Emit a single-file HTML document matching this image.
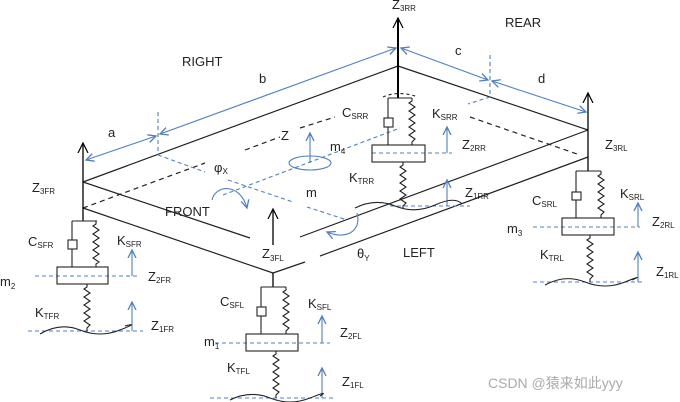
<!DOCTYPE html>
<html><head><meta charset="utf-8"><style>
html,body{margin:0;padding:0;background:#fff;}
svg{display:block;}
text{font-family:"Liberation Sans","Noto Sans CJK SC",sans-serif;font-size:13px;fill:#222;}
.s{font-size:8px;}
</style></head><body>
<svg width="680" height="402" viewBox="0 0 680 402" xmlns="http://www.w3.org/2000/svg">
<defs>
<marker id="ab" markerWidth="10" markerHeight="10" refX="8" refY="5" orient="auto-start-reverse" markerUnits="userSpaceOnUse"><path d="M0,1 L8,5 L0,9" fill="none" stroke="#4f7fc4" stroke-width="1.3"/></marker>
<marker id="ak" markerWidth="12" markerHeight="12" refX="10" refY="6" orient="auto-start-reverse" markerUnits="userSpaceOnUse"><path d="M0,1 L10,6 L0,11" fill="none" stroke="#000" stroke-width="1.2"/></marker>
</defs>
<g stroke="#222" stroke-width="1.2" fill="none">
<line x1="83" y1="182" x2="398" y2="66"/>
<line x1="398" y1="66" x2="588" y2="130"/>
<line x1="83" y1="182" x2="250" y2="238"/>
<line x1="588" y1="130" x2="300" y2="237"/>
<line x1="83" y1="208" x2="273" y2="273"/>
<line x1="273" y1="273" x2="305" y2="262"/>
<line x1="320" y1="256" x2="588" y2="157"/>
<line x1="83" y1="208" x2="205" y2="163" stroke-dasharray="5,4"/>
<line x1="245" y1="150" x2="280" y2="137" stroke-dasharray="5,4"/>
<line x1="300" y1="128" x2="335" y2="117" stroke-dasharray="5,4"/>
<line x1="470" y1="117" x2="580" y2="155" stroke-dasharray="5,4"/>
</g>
<g stroke="#000" stroke-width="1.3">
<line x1="83" y1="143" x2="83" y2="221" marker-start="url(#ak)"/>
<line x1="398" y1="18" x2="398" y2="98" stroke-width="2" marker-start="url(#ak)"/>
<line x1="588" y1="93" x2="588" y2="171" marker-start="url(#ak)"/>
<line x1="273" y1="273" x2="273" y2="287"/>
<line x1="273" y1="209" x2="273" y2="245" marker-start="url(#ak)"/>
</g>
<g stroke="#4f7fc4" stroke-width="1.1" fill="none">
<line x1="160" y1="134" x2="396" y2="48" marker-start="url(#ab)" marker-end="url(#ab)"/>
<line x1="86" y1="160" x2="156" y2="136" marker-start="url(#ab)" marker-end="url(#ab)"/>
<line x1="401" y1="48" x2="488" y2="80" marker-start="url(#ab)" marker-end="url(#ab)"/>
<line x1="492" y1="81" x2="586" y2="112" marker-start="url(#ab)" marker-end="url(#ab)"/>
<g stroke-dasharray="4,3">
<line x1="158" y1="112" x2="158" y2="155"/>
<line x1="158" y1="155" x2="205" y2="172"/>
<line x1="490" y1="55" x2="490" y2="97"/>
<line x1="490" y1="97" x2="468" y2="104"/>
<line x1="223" y1="195" x2="400" y2="128"/>
<line x1="228" y1="180" x2="293" y2="202"/>
<line x1="307" y1="207" x2="347" y2="220"/>
<line x1="35" y1="276" x2="138" y2="276"/>
<line x1="28" y1="331" x2="143" y2="331"/>
<line x1="215" y1="343" x2="330" y2="343"/>
<line x1="210" y1="398" x2="335" y2="398"/>
<line x1="372" y1="153" x2="452" y2="153"/>
<line x1="390" y1="206" x2="470" y2="206"/>
<line x1="533" y1="227" x2="640" y2="227"/>
<line x1="533" y1="282" x2="642" y2="282"/>
</g>
<ellipse cx="310" cy="163" rx="21" ry="7"/>
<line x1="310" y1="133" x2="310" y2="163" marker-start="url(#ab)"/>
<path d="M212,200 C215,185 240,182 247,208" marker-end="url(#ab)"/>
<path d="M357,213 C362,232 345,240 327,232" marker-end="url(#ab)"/>
<line x1="132" y1="250" x2="132" y2="276" marker-start="url(#ab)"/>
<line x1="132" y1="302" x2="132" y2="331" marker-start="url(#ab)"/>
<line x1="322" y1="316" x2="322" y2="343" marker-start="url(#ab)"/>
<line x1="322" y1="368" x2="322" y2="398" marker-start="url(#ab)"/>
<line x1="447" y1="127" x2="447" y2="153" marker-start="url(#ab)"/>
<line x1="447" y1="180" x2="447" y2="206" marker-start="url(#ab)"/>
<line x1="638" y1="203" x2="638" y2="227" marker-start="url(#ab)"/>
<line x1="638" y1="252" x2="638" y2="282" marker-start="url(#ab)"/>
</g>
<g stroke="#222" stroke-width="1.1" fill="none">
<polyline points="72,221 97,221"/>
<line x1="72" y1="221" x2="72" y2="267"/>
<rect x="68" y="240" width="9" height="9" fill="#fff"/>
<polyline points="96,221 96,224 93,226 99,230 93,234 99,238 93,242 99,246 93,250 99,254 93,258 99,262 96,264 96,267"/>
<rect x="57" y="267" width="51" height="17"/>
<polyline points="87,284 87,287 84,289 90,293 84,297 90,301 84,305 90,309 84,313 90,317 84,321 90,325 87,328 87,331"/>
<path d="M40,334 Q60,322 80,330 T120,330 T125,326"/>
<polyline points="261,287 286,287"/>
<line x1="261" y1="287" x2="261" y2="334"/>
<rect x="257" y="307" width="9" height="9" fill="#fff"/>
<polyline points="286,287 286,290 283,292 289,296 283,300 289,304 283,308 289,312 283,316 289,320 283,324 289,328 286,331 286,334"/>
<rect x="246" y="334" width="52" height="17"/>
<polyline points="276,351 276,354 273,356 279,360 273,364 279,368 273,372 279,376 273,380 279,384 273,388 279,392 276,395 276,398"/>
<path d="M230,400 Q250,390 270,398 T310,398 T320,396"/>
<polyline points="576,171 601,171"/>
<line x1="576" y1="171" x2="576" y2="218"/>
<rect x="572" y="192" width="9" height="8" fill="#fff"/>
<polyline points="601,171 601,174 598,176 604,180 598,184 604,188 598,192 604,196 598,200 604,204 598,208 604,212 601,215 601,218"/>
<rect x="562" y="218" width="52" height="17"/>
<polyline points="590,235 590,238 587,240 593,244 587,248 593,252 587,256 593,260 587,264 593,268 587,272 593,276 590,279 590,282"/>
<path d="M545,285 Q565,274 585,282 T625,282 T632,280"/>
<path d="M383,97 Q398,90 418,97" stroke-dasharray="3,3"/>
<polyline points="388,98 412,98"/>
<line x1="388" y1="98" x2="388" y2="145"/>
<rect x="384" y="118" width="9" height="9" fill="#fff"/>
<polyline points="412,98 412,101 409,103 415,107 409,111 415,115 409,119 415,123 409,127 415,131 409,135 415,139 412,142 412,145"/>
<rect x="372" y="145" width="53" height="17"/>
<polyline points="403,162 403,165 400,167 406,171 400,175 406,179 400,183 406,187 400,191 406,195 400,199 406,203 403,206 403,208"/>
<path d="M355,208 Q375,198 395,206 T435,205 T462,204"/>
</g>
<text x="182" y="66">RIGHT</text>
<text x="259" y="83">b</text>
<text x="108" y="137">a</text>
<text x="505" y="27">REAR</text>
<text x="455" y="55">c</text>
<text x="538" y="83">d</text>
<text x="281" y="140">Z</text>
<text x="214" y="172">φ<tspan class="s" dy="2">X</tspan></text>
<text x="306" y="197">m</text>
<text x="330" y="151">m<tspan class="s" dy="3">4</tspan></text>
<text x="165" y="216">FRONT</text>
<text x="262" y="258">Z<tspan class="s" dy="3">3FL</tspan></text>
<text x="357" y="258">θ<tspan class="s" dy="3">Y</tspan></text>
<text x="403" y="257">LEFT</text>
<text x="392" y="9">Z<tspan class="s" dy="2">3RR</tspan></text>
<text x="32" y="192">Z<tspan class="s" dy="2">3FR</tspan></text>
<text x="605" y="149">Z<tspan class="s" dy="2">3RL</tspan></text>
<text x="342" y="117">C<tspan class="s" dy="2">SRR</tspan></text>
<text x="432" y="118">K<tspan class="s" dy="2">SRR</tspan></text>
<text x="462" y="149">Z<tspan class="s" dy="2">2RR</tspan></text>
<text x="349" y="182">K<tspan class="s" dy="2">TRR</tspan></text>
<text x="465" y="197">Z<tspan class="s" dy="2">1RR</tspan></text>
<text x="28" y="246">C<tspan class="s" dy="2">SFR</tspan></text>
<text x="117" y="245">K<tspan class="s" dy="2">SFR</tspan></text>
<text x="148" y="281">Z<tspan class="s" dy="2">2FR</tspan></text>
<text x="0" y="286">m<tspan class="s" dy="3">2</tspan></text>
<text x="35" y="317">K<tspan class="s" dy="2">TFR</tspan></text>
<text x="151" y="330">Z<tspan class="s" dy="2">1FR</tspan></text>
<text x="220" y="306">C<tspan class="s" dy="2">SFL</tspan></text>
<text x="308" y="308">K<tspan class="s" dy="2">SFL</tspan></text>
<text x="204" y="346">m<tspan class="s" dy="3">1</tspan></text>
<text x="340" y="337">Z<tspan class="s" dy="2">2FL</tspan></text>
<text x="227" y="372">K<tspan class="s" dy="2">TFL</tspan></text>
<text x="342" y="386">Z<tspan class="s" dy="2">1FL</tspan></text>
<text x="532" y="205">C<tspan class="s" dy="2">SRL</tspan></text>
<text x="620" y="198">K<tspan class="s" dy="2">SRL</tspan></text>
<text x="652" y="226">Z<tspan class="s" dy="2">2RL</tspan></text>
<text x="507" y="233">m<tspan class="s" dy="3">3</tspan></text>
<text x="540" y="259">K<tspan class="s" dy="2">TRL</tspan></text>
<text x="656" y="276">Z<tspan class="s" dy="2">1RL</tspan></text>
<text x="488" y="388" style="font-size:14px;fill:#aaa">CSDN @猿来如此yyy</text>
</svg>
</body></html>
